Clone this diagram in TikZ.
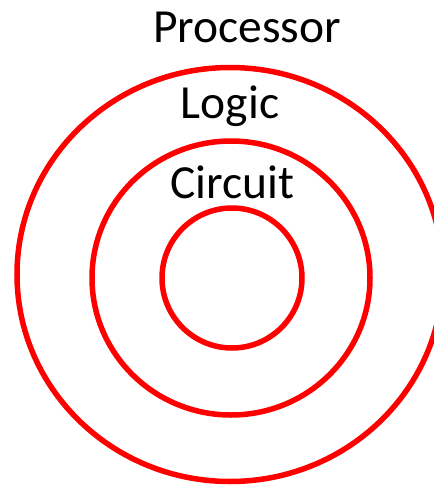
\documentclass[tikz,border=0pt]{standalone}
\usepackage{fontspec}
\setmainfont{Carlito}
\usetikzlibrary{positioning}

\tikzset{
  ring/.style={draw=red, line width=5.5pt},
  layer/.style={font=\fontsize{47.5}{57}\selectfont, inner sep=0pt, anchor=base}
}

\begin{document}
\begin{tikzpicture}[x=1pt, y=-1pt]

% frame
\useasboundingbox (0,0) rectangle (434,485);
\clip (0,0) rectangle (434,485);

% outer ring
\draw[ring] (230,274.5) ellipse [x radius=213, y radius=207];

% middle ring
\draw[ring] (231,278) ellipse [x radius=139, y radius=137];

% inner ring
\draw[ring] (232,278) circle [radius=70];

% labels
\node[layer] (processor) at (247,42) {Processor};
\node[layer] (logic) at (230,118) {Logic};
\node[layer] (circuit) at (232,198) {Circuit};

\end{tikzpicture}
\end{document}
